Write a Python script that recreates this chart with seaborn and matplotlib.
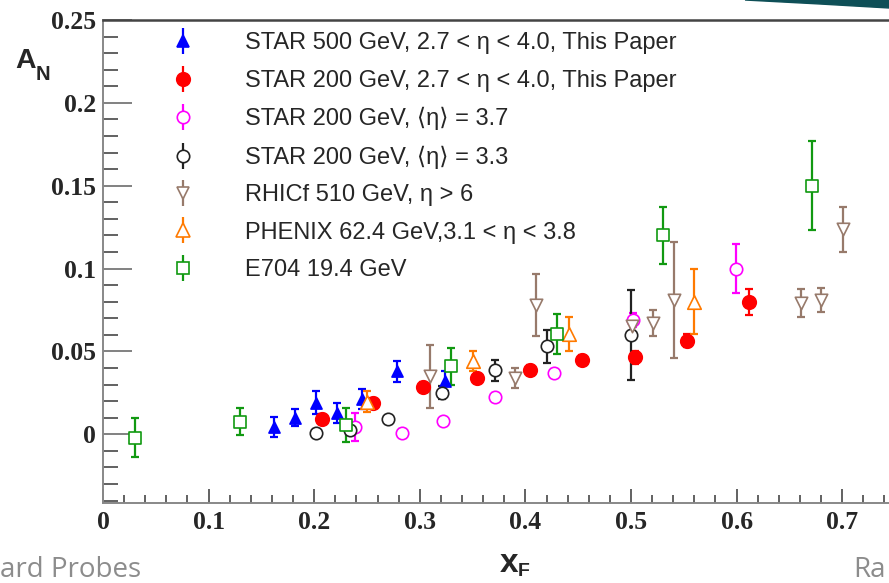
import numpy as np
import pandas as pd
import matplotlib
matplotlib.use("Agg")
import matplotlib.pyplot as plt
import seaborn as sns
from matplotlib.lines import Line2D
from matplotlib.ticker import MultipleLocator, FuncFormatter
from matplotlib.patches import Polygon

# ---------------- data ----------------
star500_x = [0.162, 0.182, 0.202, 0.222, 0.245, 0.278, 0.324]
star500_y = [0.0046, 0.010, 0.019, 0.0127, 0.0215, 0.038, 0.032]
star500_e = [0.006, 0.005, 0.007, 0.006, 0.006, 0.0065, 0.006]

star200_x = [0.207, 0.256, 0.303, 0.354, 0.404, 0.454, 0.504, 0.553, 0.612]
star200_y = [0.009, 0.019, 0.0287, 0.0338, 0.039, 0.0448, 0.0465, 0.0565, 0.0797]
star200_e = [0.003, 0.003, 0.003, 0.003, 0.003, 0.003, 0.004, 0.004, 0.008]

star37_x = [0.239, 0.283, 0.322, 0.371, 0.427, 0.502, 0.599]
star37_y = [0.0046, 0.001, 0.008, 0.0227, 0.0372, 0.069, 0.100]
star37_e = [0.0085, 0.002, 0.002, 0.002, 0.002, 0.004, 0.0146]

star33_x = [0.202, 0.234, 0.270, 0.321, 0.371, 0.420, 0.4997]
star33_y = [0.0006, 0.0026, 0.009, 0.025, 0.0385, 0.053, 0.060]
star33_e = [0.002, 0.002, 0.002, 0.004, 0.0066, 0.010, 0.027]

rhicf_x = [0.310, 0.390, 0.410, 0.501, 0.521, 0.541, 0.661, 0.680, 0.701]
rhicf_y = [0.035, 0.0338, 0.078, 0.0655, 0.067, 0.081, 0.079, 0.081, 0.1237]
rhicf_e = [0.019, 0.006, 0.019, 0.003, 0.008, 0.035, 0.0085, 0.007, 0.0137]

phenix_x = [0.250, 0.350, 0.4416, 0.5597]
phenix_y = [0.0197, 0.044, 0.0605, 0.080]
phenix_e = [0.0065, 0.006, 0.010, 0.0196]

e704_x = [0.030, 0.130, 0.230, 0.330, 0.430, 0.5306, 0.671]
e704_y = [-0.002, 0.0076, 0.0056, 0.041, 0.0605, 0.120, 0.150]
e704_e = [0.012, 0.008, 0.010, 0.011, 0.012, 0.017, 0.027]

labels = [
    "STAR 500 GeV, 2.7 < \u03b7 < 4.0, This Paper",
    "STAR 200 GeV, 2.7 < \u03b7 < 4.0, This Paper",
    "STAR 200 GeV, \u27e8\u03b7\u27e9 = 3.7",
    "STAR 200 GeV, \u27e8\u03b7\u27e9 = 3.3",
    "RHICf 510 GeV, \u03b7 > 6",
    "PHENIX 62.4 GeV,3.1 < \u03b7 < 3.8",
    "E704 19.4 GeV",
]

# ---------------- style ----------------
sns.set_style("ticks")
plt.rcParams["font.family"] = ["Liberation Sans", "DejaVu Sans"]

W, H = 889, 583
fig = plt.figure(figsize=(W / 100, H / 100), dpi=100)
ax_l, ax_r, ax_t, ax_b = 103, 889, 20, 502.7
ax = fig.add_axes([ax_l / W, 1 - ax_b / H, (ax_r - ax_l) / W, (ax_b - ax_t) / H])

series = [
    # x, y, err, color, marker, size, filled
    (star500_x, star500_y, star500_e, "#0000ff", "^", 64, True),
    (star200_x, star200_y, star200_e, "#ff0000", "o", 95, True),
    (star37_x, star37_y, star37_e, "#ff00ff", "o", 80, False),
    (star33_x, star33_y, star33_e, "#222222", "o", 80, False),
    (rhicf_x, rhicf_y, rhicf_e, "#977a6b", "v", 80, False),
    (phenix_x, phenix_y, phenix_e, "#ff7a00", "^", 95, False),
    (e704_x, e704_y, e704_e, "#119911", "s", 85, False),
]

for i, (xs, ys, es, c, m, s, filled) in enumerate(series):
    df = pd.DataFrame({"xF": xs, "AN": ys, "err": es})
    ax.errorbar(df["xF"], df["AN"], yerr=df["err"], fmt="none", ecolor=c,
                elinewidth=1.6, capsize=3.2, capthick=1.6, zorder=2 + i * 0.01)
    sns.scatterplot(data=df, x="xF", y="AN", ax=ax, marker=m, s=s, color=c,
                    facecolor=(c if filled else "white"), edgecolor=c,
                    linewidth=1.2, zorder=3 + i * 0.01, legend=False)

ax.set_xlim(0, (ax_r - ax_l) / 1056.0)
ax.set_ylim(-0.0413, 0.25)
ax.set_xlabel("")
ax.set_ylabel("")

ax.xaxis.set_major_locator(MultipleLocator(0.1))
ax.xaxis.set_minor_locator(MultipleLocator(0.02))
ax.yaxis.set_major_locator(MultipleLocator(0.05))
ax.yaxis.set_minor_locator(MultipleLocator(0.01))
fmt = FuncFormatter(lambda v, p: "0" if abs(v) < 1e-9 else ("%g" % round(v, 3)))
ax.xaxis.set_major_formatter(fmt)
ax.yaxis.set_major_formatter(fmt)

ax.tick_params(axis="y", which="major", direction="in", length=21, width=1.3,
               color="#777777", pad=5)
ax.tick_params(axis="y", which="minor", direction="in", length=10.5, width=1.3,
               color="#555555")
ax.tick_params(axis="x", which="major", direction="in", length=10, width=1.3,
               color="#555555", pad=6)
ax.tick_params(axis="x", which="minor", direction="in", length=5.5, width=1.3,
               color="#555555")
for lab in ax.get_xticklabels() + ax.get_yticklabels():
    lab.set_fontfamily("Liberation Serif")
    lab.set_fontweight("bold")
    lab.set_fontsize(18.5)

ax.spines["right"].set_visible(False)
ax.spines["top"].set_color("#444444")
ax.spines["top"].set_linewidth(1.8)
ax.spines["left"].set_color("#888888")
ax.spines["left"].set_linewidth(1.4)
ax.spines["bottom"].set_color("#888888")
ax.spines["bottom"].set_linewidth(1.4)

# legend
handles = []
for (xs, ys, es, c, m, s, filled) in series:
    bar = Line2D([], [], marker="|", markersize=19, markeredgewidth=1.6,
                 color=c, linestyle="none")
    mk = Line2D([], [], marker=m, markersize=np.sqrt(s), linestyle="none",
                markerfacecolor=(c if filled else "white"), markeredgecolor=c,
                markeredgewidth=1.2)
    handles.append((bar, mk))

fs = 17
fspx = fs * 100 / 72.0
leg = ax.legend(handles, labels, loc="upper left",
                bbox_to_anchor=((183 - fspx / 2) / W, 1 - 32.5 / H),
                bbox_transform=fig.transFigure, frameon=False,
                handlelength=1.0, handletextpad=(245 - 183 - fspx / 2) / fspx,
                borderpad=0, borderaxespad=0, labelspacing=0.65,
                prop={"family": ["Liberation Sans", "DejaVu Sans"], "size": fs})

# axis titles (ROOT style)
fig.text(15 / W, 1 - 68 / H, "A", fontsize=20.5, fontweight="bold",
         family="Liberation Sans", ha="left", va="baseline")
fig.text(36 / W, 1 - 80 / H, "N", fontsize=14.5, fontweight="bold",
         family="Liberation Sans", ha="left", va="baseline")
fig.text(500 / W, 1 - 572 / H, "x", fontsize=24, fontweight="bold",
         family="Liberation Sans", ha="left", va="baseline")
fig.text(518 / W, 1 - 576 / H, "F", fontsize=14, fontweight="bold",
         family="Liberation Sans", ha="left", va="baseline")

# slide footer fragments
fig.text(0, 1 - 577 / H, "ard Probes", fontsize=20, color="#8c8c8c",
         family="Open Sans", ha="left", va="baseline")
fig.text(853 / W, 1 - 577 / H, "Ra", fontsize=20, color="#8c8c8c",
         family="Open Sans", ha="left", va="baseline")

# slide decoration (top-right swoosh)
poly = Polygon([(745 / W, 1.0), (889 / W, 1.0), (889 / W, 1 - 8 / H), (820 / W, 1 - 4 / H)],
               closed=True, transform=fig.transFigure, color="#0e4f57", zorder=0)
fig.patches.append(poly)

fig.savefig("out.png", dpi=100)
